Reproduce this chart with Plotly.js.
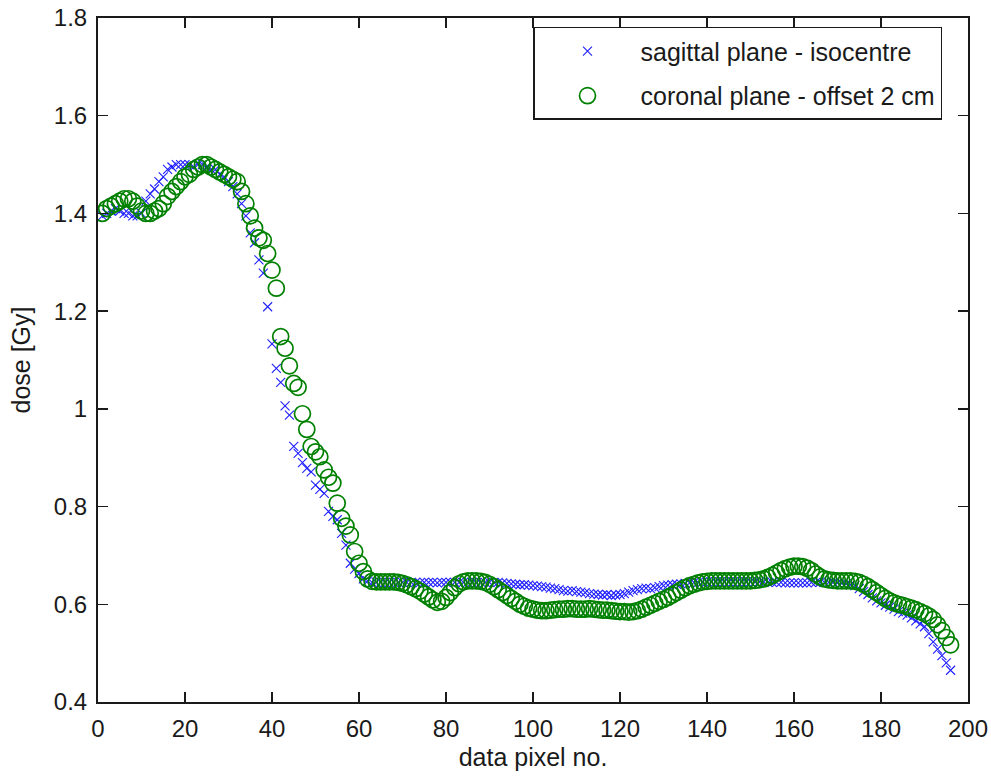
<!DOCTYPE html>
<html>
<head>
<meta charset="utf-8">
<script src="https://cdn.plot.ly/plotly-3.0.1.min.js"></script>
<style>
html,body{margin:0;padding:0;background:#fff;}
#chart{width:991px;height:776px;}
</style>
</head>
<body>
<div id="chart"></div>
<script>
// data pixel numbers
var pixelNo = [];
for (var i = 1; i <= 196; i++) pixelNo.push(i);

// sagittal plane - isocentre (dose, Gy)
var sagittal = [
1.395,1.400,1.405,1.410,1.405,1.400,1.400,1.395,1.395,1.400,
1.425,1.440,1.450,1.465,1.475,1.490,1.495,1.500,1.500,1.500,
1.500,1.495,1.500,1.500,1.495,1.490,1.490,1.480,1.475,1.465,
1.455,1.440,1.420,1.395,1.360,1.340,1.305,1.278,1.209,1.133,
1.083,1.054,1.006,0.987,0.923,0.909,0.890,0.878,0.871,0.844,
0.835,0.827,0.790,0.780,0.773,0.745,0.721,0.684,0.672,0.663,
0.652,0.648,0.645,0.645,0.645,0.645,0.645,0.645,0.645,0.645,
0.645,0.645,0.645,0.644,0.645,0.645,0.645,0.644,0.645,0.645,
0.645,0.645,0.645,0.645,0.645,0.645,0.644,0.645,0.645,0.645,
0.645,0.645,0.644,0.643,0.642,0.641,0.640,0.640,0.639,0.638,
0.637,0.636,0.635,0.633,0.632,0.630,0.628,0.627,0.628,0.626,
0.625,0.624,0.622,0.621,0.620,0.619,0.620,0.618,0.619,0.620,
0.622,0.625,0.628,0.630,0.632,0.633,0.632,0.634,0.636,0.638,
0.639,0.640,0.641,0.642,0.643,0.644,0.645,0.645,0.646,0.646,
0.646,0.646,0.646,0.646,0.646,0.646,0.646,0.646,0.646,0.646,
0.646,0.646,0.646,0.645,0.645,0.645,0.645,0.644,0.644,0.644,
0.644,0.644,0.644,0.645,0.645,0.645,0.645,0.645,0.645,0.644,
0.643,0.642,0.640,0.638,0.632,0.626,0.620,0.613,0.607,0.603,
0.598,0.594,0.590,0.585,0.582,0.578,0.572,0.566,0.560,0.554,
0.540,0.523,0.508,0.495,0.480,0.465
];

// coronal plane - offset 2 cm (dose, Gy)
var coronal = [
1.400,1.410,1.415,1.420,1.425,1.430,1.430,1.425,1.415,1.405,
1.400,1.400,1.405,1.410,1.420,1.435,1.445,1.455,1.465,1.475,
1.480,1.490,1.495,1.500,1.500,1.495,1.490,1.485,1.480,1.475,
1.470,1.465,1.445,1.420,1.395,1.370,1.350,1.345,1.318,1.284,
1.247,1.148,1.124,1.088,1.052,1.044,0.990,0.958,0.923,0.912,
0.902,0.875,0.860,0.848,0.807,0.776,0.760,0.742,0.708,0.684,
0.667,0.652,0.647,0.646,0.646,0.646,0.646,0.646,0.645,0.643,
0.640,0.636,0.632,0.627,0.621,0.615,0.609,0.604,0.606,0.614,
0.624,0.634,0.642,0.646,0.648,0.648,0.648,0.647,0.645,0.641,
0.636,0.630,0.624,0.618,0.612,0.606,0.600,0.596,0.592,0.590,
0.588,0.587,0.587,0.588,0.589,0.590,0.590,0.591,0.591,0.590,
0.590,0.590,0.591,0.590,0.589,0.588,0.588,0.587,0.586,0.585,
0.585,0.584,0.585,0.587,0.590,0.594,0.598,0.602,0.606,0.610,
0.614,0.619,0.624,0.629,0.634,0.638,0.641,0.644,0.646,0.647,
0.648,0.648,0.648,0.648,0.648,0.648,0.648,0.648,0.648,0.648,
0.649,0.650,0.652,0.655,0.659,0.664,0.669,0.673,0.676,0.678,
0.678,0.677,0.674,0.669,0.662,0.656,0.652,0.650,0.649,0.648,
0.648,0.648,0.648,0.647,0.645,0.641,0.636,0.630,0.624,0.618,
0.612,0.607,0.603,0.600,0.598,0.595,0.592,0.589,0.585,0.581,
0.576,0.569,0.558,0.546,0.532,0.517
];

var seriesNames = ['sagittal plane - isocentre', 'coronal plane - offset 2 cm'];

var font = 'Arial, "Liberation Sans", sans-serif';
var ink = '#1a1a1a';

var traces = [
  {
    x: pixelNo, y: sagittal, name: seriesNames[0], type: 'scatter', mode: 'markers',
    legendgroup: 'a',
    marker: {symbol: 'x-thin-open', size: 9, color: '#1f1fff', line: {width: 1.1, color: '#1f1fff'}}
  },
  {
    x: pixelNo, y: coronal, name: seriesNames[1], type: 'scatter', mode: 'markers',
    legendgroup: 'b',
    marker: {symbol: 'circle-open', size: 16, color: '#008000', line: {width: 1.7, color: '#008000'}}
  }
];

var axisCommon = {
  showline: true, linecolor: ink, linewidth: 2, mirror: 'ticks',
  ticks: 'inside', ticklen: 10, tickwidth: 1.5, tickcolor: ink,
  showgrid: false, zeroline: false,
  tickfont: {family: font, size: 24, color: ink}
};

var layout = {
  width: 991, height: 776,
  margin: {l: 98, r: 23, t: 18, b: 74},
  paper_bgcolor: '#fff', plot_bgcolor: '#fff',
  showlegend: true,
  xaxis: Object.assign({}, axisCommon, {
    range: [0, 200], dtick: 20, tick0: 0,
    title: {text: 'data pixel no.', font: {family: font, size: 25, color: ink}, standoff: 8},
    ticklabelstandoff: 4
  }),
  yaxis: Object.assign({}, axisCommon, {
    range: [0.4, 1.8], dtick: 0.2, tick0: 0.4,
    title: {text: 'dose [Gy]', font: {family: font, size: 25, color: ink}, standoff: 16},
    ticklabelstandoff: 4
  }),
  legend: {
    x: 0.5, y: 0.987, xanchor: 'left', yanchor: 'top',
    bgcolor: '#fff', bordercolor: ink, borderwidth: 1.5,
    font: {family: font, size: 25, color: ink},
    traceorder: 'grouped', tracegroupgap: 9,
    itemwidth: 96
  }
};

Plotly.newPlot('chart', traces, layout, {displayModeBar: false, staticPlot: true});
</script>
</body>
</html>
